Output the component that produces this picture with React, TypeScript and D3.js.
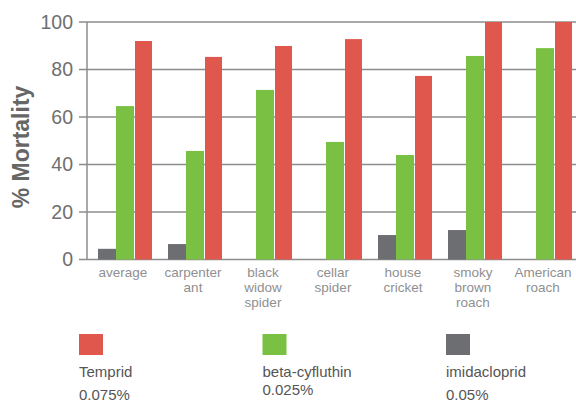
import * as d3 from "d3";

const CATEGORIES = [
  ["average"],
  ["carpenter", "ant"],
  ["black", "widow", "spider"],
  ["cellar", "spider"],
  ["house", "cricket"],
  ["smoky", "brown", "roach"],
  ["American", "roach"],
];

const SERIES = ["imidacloprid", "beta-cyfluthin", "Temprid"];
const IMIDACLOPRID = [4.5, 6.5, 0, 0, 10.3, 12.4, 0];
const BETA_CYFLUTHIN = [64.6, 45.7, 71.4, 49.5, 44, 85.7, 89];
const TEMPRID = [92, 85.3, 89.9, 92.8, 77.3, 100, 100];
const Y_TICKS = [0, 20, 40, 60, 80, 100];

const COLORS: Record<string, string> = {
  imidacloprid: "#6d6e71",
  "beta-cyfluthin": "#7ac143",
  Temprid: "#df574d",
};

const LEGEND = [
  { name: "Temprid", rate: "0.075%", dy: 0 },
  { name: "beta-cyfluthin", rate: "0.025%", dy: -5 },
  { name: "imidacloprid", rate: "0.05%", dy: 0 },
];

const W = 576, H = 403;
const FONT = "'Liberation Sans', Arial, sans-serif";

export default function App() {
  const keys = CATEGORIES.map((c) => c.join(" "));
  const x = d3.scaleBand<string>().domain(keys).range([90, 580])
    .paddingInner(16 / 70).paddingOuter(8 / 70);
  const sub = d3.scaleBand<string>().domain(SERIES).range([0, x.bandwidth()]);
  const y = d3.scaleLinear().domain([0, 100]).range([259.5, 22]);
  const values: Record<string, number[]> = {
    imidacloprid: IMIDACLOPRID,
    "beta-cyfluthin": BETA_CYFLUTHIN,
    Temprid: TEMPRID,
  };
  const legendX = d3.scalePoint<string>().domain(LEGEND.map((l) => l.name)).range([79, 446]);

  return (
    <svg width={W} height={H} style={{ position: "absolute", left: 0, top: 0, background: "#fff" }}
      fontFamily={FONT}>
      {/* gridlines */}
      {Y_TICKS.map((t) => (
        <g key={t}>
          <line x1={79} x2={W} y1={y(t)} y2={y(t)} stroke="#8c8c8c" strokeWidth={1.5} />
          <text x={73} y={y(t)} dy="0.35em" textAnchor="end" fontSize={19.5} fill="#6f6f6f">{t}</text>
        </g>
      ))}
      <line x1={87} x2={87} y1={y(100)} y2={y(0)} stroke="#8c8c8c" strokeWidth={1.5} />

      {/* bars */}
      {keys.map((k, i) => (
        <g key={k} transform={`translate(${x(k)},0)`}>
          {SERIES.map((s) => {
            const v = values[s][i];
            if (!v) return null;
            return (
              <rect key={s} x={sub(s)! + (s === "Temprid" ? 1 : 0)} y={y(v)}
                width={sub.bandwidth() - (s === "Temprid" ? 1 : 0)} height={y(0) - y(v)}
                fill={COLORS[s]} />
            );
          })}
        </g>
      ))}

      {/* x labels */}
      {CATEGORIES.map((lines, i) => (
        <text key={i} x={x(keys[i])! + x.bandwidth() / 2 - 2} y={277} textAnchor="middle"
          fontSize={13.5} fill="#8f8f8f">
          {lines.map((l, j) => (
            <tspan key={j} x={x(keys[i])! + x.bandwidth() / 2 - 2} dy={j === 0 ? 0 : 15}>{l}</tspan>
          ))}
        </text>
      ))}

      {/* y title */}
      <text transform={`translate(29,147) rotate(-90)`} textAnchor="middle" fontSize={23}
        fontWeight="bold" fill="#666">% Mortality</text>

      {/* legend */}
      {LEGEND.map((l) => (
        <g key={l.name} transform={`translate(${legendX(l.name)},0)`}>
          <rect x={0} y={334} width={24} height={21} fill={COLORS[l.name]} />
          <text x={0} y={377} fontSize={15} fill="#555">{l.name}</text>
          <text x={0} y={400 + l.dy} fontSize={15} fill="#555">{l.rate}</text>
        </g>
      ))}
    </svg>
  );
}
